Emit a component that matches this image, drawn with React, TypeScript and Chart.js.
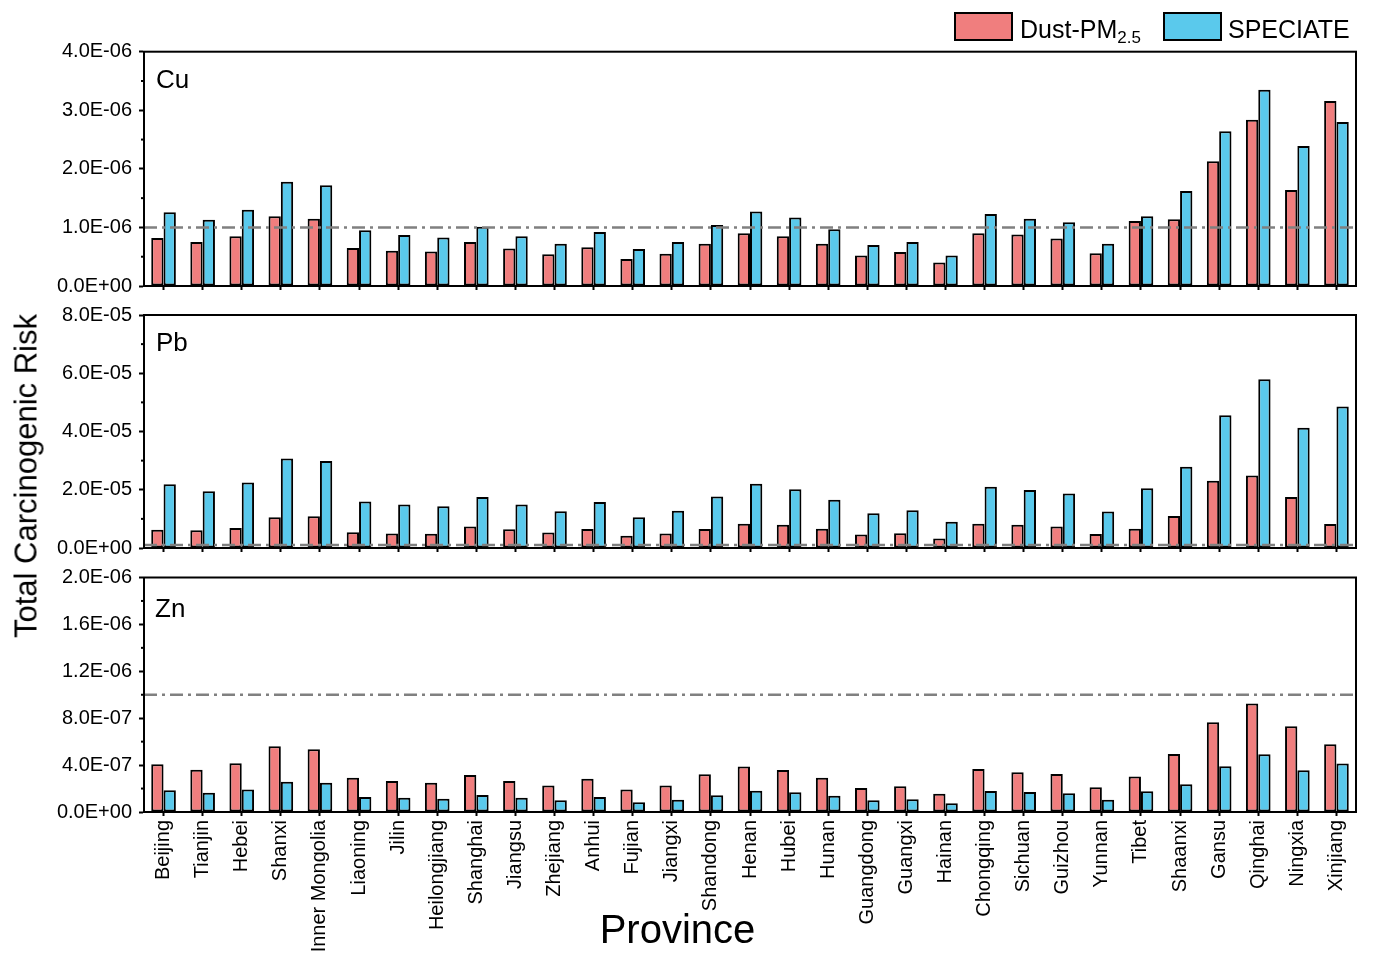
import React, { useEffect, useRef } from 'react';
import { Chart, registerables } from 'chart.js';

Chart.register(...registerables);

const provinces = [
  'Beijing', 'Tianjin', 'Hebei', 'Shanxi', 'Inner Mongolia', 'Liaoning', 'Jilin', 'Heilongjiang',
  'Shanghai', 'Jiangsu', 'Zhejiang', 'Anhui', 'Fujian', 'Jiangxi', 'Shandong', 'Henan', 'Hubei',
  'Hunan', 'Guangdong', 'Guangxi', 'Hainan', 'Chongqing', 'Sichuan', 'Guizhou', 'Yunnan', 'Tibet',
  'Shaanxi', 'Gansu', 'Qinghai', 'Ningxia', 'Xinjiang',
];

const seriesNames = ['Dust-PM2.5', 'SPECIATE'];

const cuDust = [
  8.2e-7, 7.5e-7, 8.5e-7, 1.19e-6, 1.15e-6, 6.5e-7, 6.0e-7, 5.9e-7, 7.5e-7, 6.4e-7, 5.4e-7,
  6.6e-7, 4.6e-7, 5.5e-7, 7.2e-7, 9.0e-7, 8.5e-7, 7.2e-7, 5.2e-7, 5.8e-7, 4.0e-7, 9.0e-7,
  8.8e-7, 8.1e-7, 5.6e-7, 1.11e-6, 1.14e-6, 2.13e-6, 2.84e-6, 1.64e-6, 3.16e-6,
];
const cuSpeciate = [
  1.26e-6, 1.13e-6, 1.30e-6, 1.78e-6, 1.72e-6, 9.5e-7, 8.7e-7, 8.3e-7, 1.01e-6, 8.5e-7, 7.2e-7,
  9.2e-7, 6.3e-7, 7.5e-7, 1.04e-6, 1.27e-6, 1.17e-6, 9.7e-7, 7.0e-7, 7.5e-7, 5.2e-7, 1.23e-6,
  1.15e-6, 1.09e-6, 7.2e-7, 1.19e-6, 1.62e-6, 2.64e-6, 3.35e-6, 2.39e-6, 2.80e-6,
];

const pbDust = [
  6.3e-6, 6.1e-6, 6.9e-6, 1.06e-5, 1.09e-5, 5.4e-6, 5.0e-6, 4.9e-6, 7.4e-6, 6.4e-6, 5.3e-6,
  6.5e-6, 4.2e-6, 5.0e-6, 6.5e-6, 8.3e-6, 8.0e-6, 6.6e-6, 4.6e-6, 5.1e-6, 3.3e-6, 8.3e-6,
  8.0e-6, 7.4e-6, 4.8e-6, 6.6e-6, 1.10e-5, 2.31e-5, 2.49e-5, 1.75e-5, 8.2e-6,
];
const pbSpeciate = [
  2.19e-5, 1.95e-5, 2.25e-5, 3.07e-5, 2.99e-5, 1.60e-5, 1.49e-5, 1.43e-5, 1.75e-5, 1.49e-5, 1.26e-5,
  1.58e-5, 1.06e-5, 1.28e-5, 1.77e-5, 2.21e-5, 2.02e-5, 1.66e-5, 1.19e-5, 1.30e-5, 9.0e-6, 2.10e-5,
  1.99e-5, 1.87e-5, 1.25e-5, 2.05e-5, 2.79e-5, 4.56e-5, 5.79e-5, 4.13e-5, 4.86e-5,
];

const znDust = [
  4.07e-7, 3.61e-7, 4.15e-7, 5.60e-7, 5.35e-7, 2.93e-7, 2.65e-7, 2.50e-7, 3.16e-7, 2.65e-7, 2.25e-7,
  2.84e-7, 1.91e-7, 2.25e-7, 3.21e-7, 3.87e-7, 3.58e-7, 2.93e-7, 2.05e-7, 2.19e-7, 1.56e-7, 3.67e-7,
  3.39e-7, 3.24e-7, 2.11e-7, 3.02e-7, 4.95e-7, 7.65e-7, 9.25e-7, 7.31e-7, 5.78e-7,
];
const znSpeciate = [
  1.85e-7, 1.65e-7, 1.91e-7, 2.59e-7, 2.50e-7, 1.28e-7, 1.22e-7, 1.14e-7, 1.45e-7, 1.22e-7, 1.00e-7,
  1.28e-7, 8.3e-8, 1.05e-7, 1.42e-7, 1.82e-7, 1.68e-7, 1.39e-7, 1.00e-7, 1.08e-7, 7.4e-8, 1.79e-7,
  1.71e-7, 1.59e-7, 1.05e-7, 1.76e-7, 2.36e-7, 3.90e-7, 4.92e-7, 3.56e-7, 4.13e-7,
];

const cuAxis = { max: 4e-6, step: 1e-6 };
const pbAxis = { max: 8e-5, step: 2e-5 };
const znAxis = { max: 2e-6, step: 4e-7 };
const riskThreshold = 1e-6;

const FONT = '"Liberation Sans", Arial, Helvetica, sans-serif';
const RED = 'rgb(240,126,126)';
const BLUE = 'rgb(90,201,236)';

function fmt(v: number): string {
  const s = Number(v).toExponential(1);
  const [m, e] = s.split('e');
  const sign = e.startsWith('-') ? '-' : '+';
  const digits = e.replace('-', '').replace('+', '').padStart(2, '0');
  return `${m}E${sign}${digits}`;
}

const panelPlugin = {
  id: 'panelDecor',
  afterDatasetsDraw(chart: any) {
    const { ctx, chartArea } = chart;
    const y = chart.scales.y;
    const py = y.getPixelForValue(riskThreshold);
    ctx.save();
    ctx.strokeStyle = 'rgb(128,128,128)';
    ctx.lineWidth = 2.5;
    ctx.setLineDash([13, 5, 3, 5]);
    ctx.beginPath();
    ctx.moveTo(chartArea.left, py);
    ctx.lineTo(chartArea.right, py);
    ctx.stroke();
    ctx.restore();
  },
  afterDraw(chart: any) {
    const { ctx, chartArea } = chart;
    const y = chart.scales.y;
    ctx.save();
    ctx.strokeStyle = '#000';
    ctx.lineWidth = 2;
    ctx.strokeRect(chartArea.left, chartArea.top, chartArea.right - chartArea.left, chartArea.bottom - chartArea.top);
    const ticks = y.ticks;
    for (let i = 0; i < ticks.length - 1; i++) {
      const mid = (ticks[i].value + ticks[i + 1].value) / 2;
      const p = y.getPixelForValue(mid);
      ctx.beginPath();
      ctx.moveTo(chartArea.left - 3, p);
      ctx.lineTo(chartArea.left, p);
      ctx.stroke();
    }
    ctx.restore();
  },
};

type PanelProps = {
  dust: number[];
  speciate: number[];
  axis: { max: number; step: number };
  showLabels: boolean;
  padTop: number;
  xHeight: number;
  height: number;
  top: number;
};

function Panel({ dust, speciate, axis, showLabels, padTop, xHeight, height, top }: PanelProps) {
  const ref = useRef<HTMLCanvasElement | null>(null);
  useEffect(() => {
    if (!ref.current) return;
    const chart = new Chart(ref.current, {
      type: 'bar',
      data: {
        labels: provinces,
        datasets: [
          {
            label: seriesNames[0],
            data: dust,
            backgroundColor: RED,
            borderColor: '#000',
            borderWidth: 2,
            borderSkipped: false,
            categoryPercentage: 0.63,
            barPercentage: 1,
          },
          {
            label: seriesNames[1],
            data: speciate,
            backgroundColor: BLUE,
            borderColor: '#000',
            borderWidth: 2,
            borderSkipped: false,
            categoryPercentage: 0.63,
            barPercentage: 1,
          },
        ],
      },
      options: {
        animation: false,
        responsive: false,
        devicePixelRatio: 1,
        layout: { padding: { top: padTop, right: 30, bottom: 0, left: 0 } },
        plugins: { legend: { display: false }, tooltip: { enabled: false } },
        scales: {
          x: {
            type: 'category',
            offset: true,
            grid: {
              display: true,
              drawOnChartArea: false,
              drawTicks: true,
              tickLength: 4,
              tickColor: '#000',
              tickWidth: 2,
              offset: false,
            },
            border: { display: true, color: '#000', width: 2 },
            ticks: {
              display: showLabels,
              autoSkip: false,
              maxRotation: 90,
              minRotation: 90,
              padding: 4,
              color: '#000',
              font: { family: FONT, size: 20 },
            },
            afterFit(scale: any) {
              scale.height = xHeight;
            },
          },
          y: {
            min: 0,
            max: axis.max,
            grid: {
              display: true,
              drawOnChartArea: false,
              drawTicks: true,
              tickLength: 5,
              tickColor: '#000',
              tickWidth: 2,
            },
            border: { display: true, color: '#000', width: 2 },
            ticks: {
              stepSize: axis.step,
              padding: 7,
              color: '#000',
              font: { family: FONT, size: 20 },
              callback: (v: any) => fmt(Number(v)),
            },
            afterFit(scale: any) {
              scale.width = 144;
            },
          },
        },
      },
      plugins: [panelPlugin],
    } as any);
    return () => chart.destroy();
  }, []);
  return (
    <canvas
      ref={ref}
      width={1386}
      height={height}
      style={{ position: 'absolute', left: 0, top, width: 1386, height, display: 'block' }}
    />
  );
}

const textBase: React.CSSProperties = {
  position: 'absolute',
  fontFamily: FONT,
  color: '#000',
  lineHeight: 1,
  whiteSpace: 'nowrap',
};

export default function App() {
  return (
    <div style={{ position: 'absolute', left: 0, top: 0, width: 1386, height: 953, background: '#fff', overflow: 'hidden' }}>
      <Panel dust={cuDust} speciate={cuSpeciate} axis={cuAxis} showLabels={false} padTop={51.7} xHeight={24} height={310} top={0} />
      <Panel dust={pbDust} speciate={pbSpeciate} axis={pbAxis} showLabels={false} padTop={19} xHeight={24} height={276} top={296} />
      <Panel dust={znDust} speciate={znSpeciate} axis={znAxis} showLabels={true} padTop={19.5} xHeight={141} height={395} top={558} />

      <div style={{ ...textBase, fontSize: 26, left: 156, top: 66 }}>Cu</div>
      <div style={{ ...textBase, fontSize: 26, left: 156, top: 329 }}>Pb</div>
      <div style={{ ...textBase, fontSize: 26, left: 155, top: 595 }}>Zn</div>

      <div
        style={{
          ...textBase,
          fontSize: 31,
          left: 26,
          top: 476,
          transform: 'translate(-50%, -50%) rotate(-90deg)',
        }}
      >
        Total Carcinogenic Risk
      </div>
      <div style={{ ...textBase, fontSize: 40, left: 677.5, top: 909, transform: 'translateX(-50%)' }}>Province</div>

      <div style={{ position: 'absolute', left: 954, top: 12, width: 55, height: 25, background: RED, border: '2px solid #000' }} />
      <div style={{ ...textBase, fontSize: 25, left: 1020, top: 17 }}>
        Dust-PM<span style={{ fontSize: 17, verticalAlign: -5 }}>2.5</span>
      </div>
      <div style={{ position: 'absolute', left: 1163, top: 12, width: 55, height: 25, background: BLUE, border: '2px solid #000' }} />
      <div style={{ ...textBase, fontSize: 25, left: 1228, top: 17 }}>SPECIATE</div>
    </div>
  );
}
